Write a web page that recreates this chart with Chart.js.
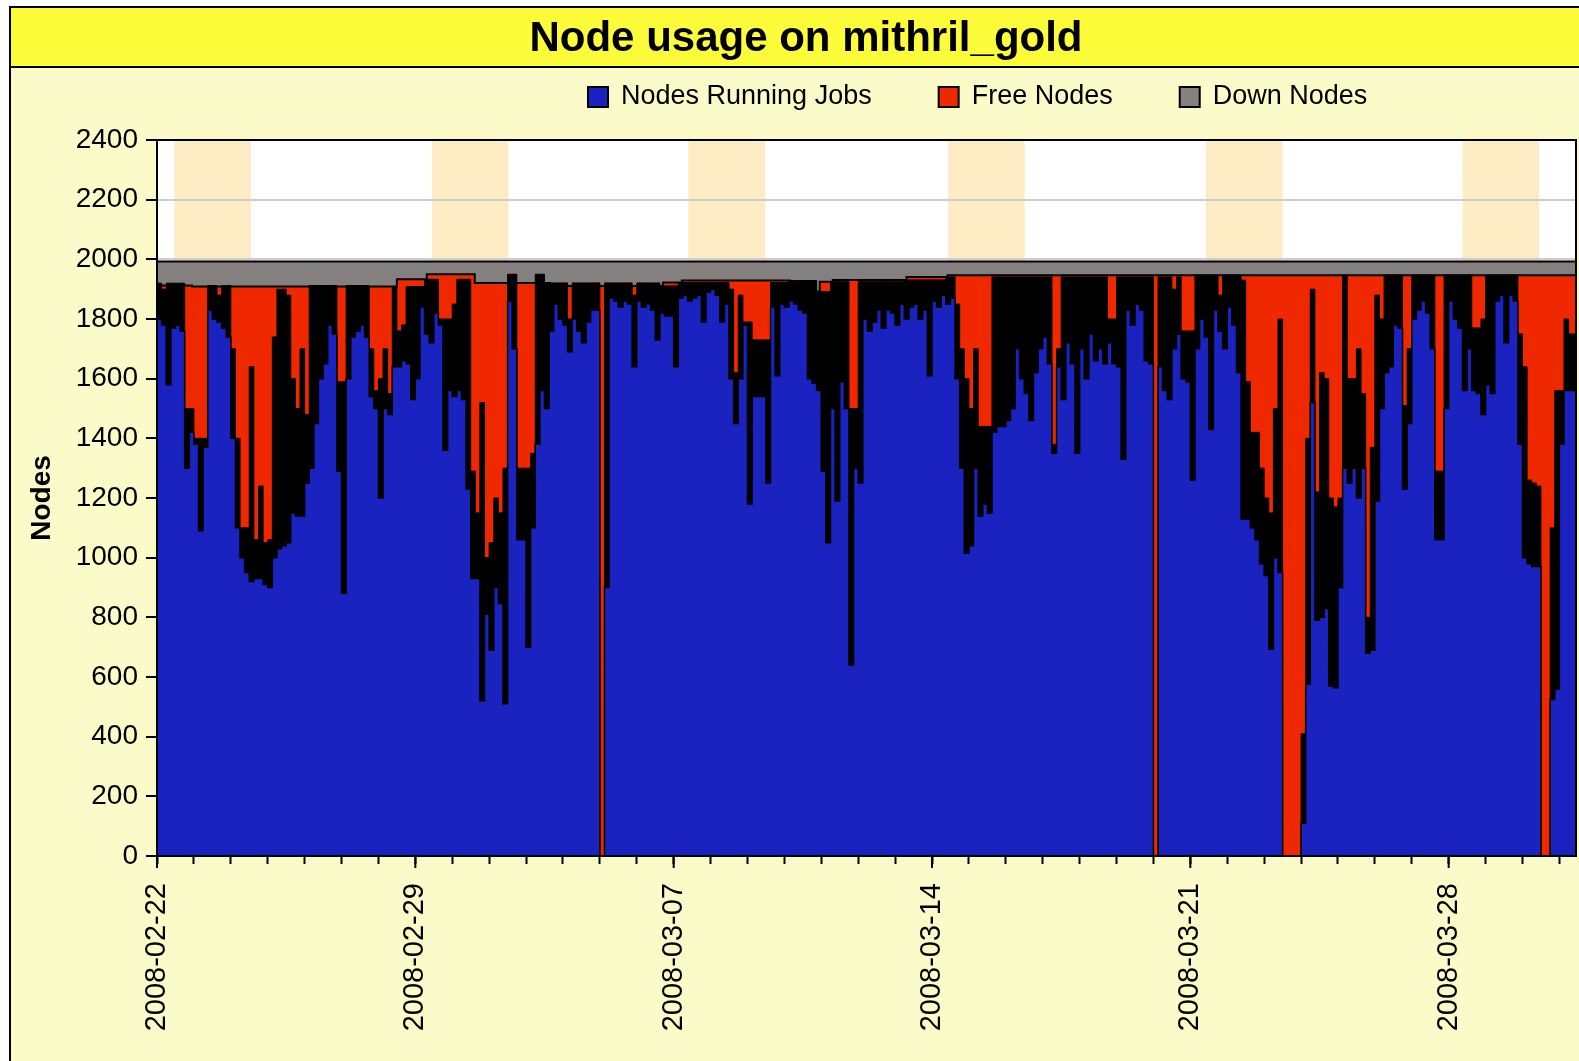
<!DOCTYPE html>
<html>
<head>
<meta charset="utf-8">
<title>Node usage on mithril_gold</title>
<script src="https://cdn.jsdelivr.net/npm/chart.js@4.4.1/dist/chart.umd.min.js"></script>
<style>
  html, body { margin: 0; padding: 0; background: #fff; overflow: hidden; }
  canvas { display: block; }
</style>
</head>
<body>
<canvas id="usage" width="1579" height="1061"></canvas>
<script>
// Node usage on mithril_gold, 2008-02-22 .. 2008-04-01
// values, one sample every 3 hours.
// The running-jobs count swings fast, so each sample has a low (blue top)
// and a peak (top of the black outline band) reading.

var TITLE = 'Node usage on mithril_gold';
var seriesLabels = ['Nodes Running Jobs', 'Free Nodes', 'Down Nodes'];
var weekLabels = ['2008-02-22', '2008-02-29', '2008-03-07', '2008-03-14', '2008-03-21', '2008-03-28'];
var SAMPLE_HOURS = 3;
var X_MAX_DAYS = 38.45;

// nodes running jobs, lowest value in each 3h sample (one line per day)
var runningJobs = [
  1530, 1800, 1780, 1580, 1770, 1780, 1760, 1300,
  1420, 1380, 1090, 1370, 1830, 1800, 1790, 1770,
  1740, 1400, 1100, 1000,  950,  920,  930,  930,
   910,  900, 1000, 1030, 1040, 1050, 1150, 1140,
  1140, 1250, 1300, 1450, 1600, 1650, 1780, 1750,
  1290,  880, 1600, 1740, 1760, 1780, 1740, 1540,
  1500, 1200, 1500, 1480, 1640, 1640, 1660, 1650,
  1530, 1600, 1840, 1750, 1720, 1820, 1780, 1360,
  1560, 1540, 1560, 1530, 1230,  930,  930,  520,
   810,  690,  900,  846,  510, 1860, 1700, 1060,
  1060,  700, 1100, 1380, 1560, 1500, 1760, 1850,
  1800, 1780, 1690, 1800, 1760, 1720, 1790, 1830,
  1830,    0,  900, 1870, 1860, 1840, 1860, 1850,
  1640, 1860, 1840, 1850, 1830, 1730, 1820, 1810,
  1810, 1640, 1870, 1880, 1860, 1870, 1880, 1790,
  1890, 1900, 1880, 1790, 1850, 1600, 1450, 1600,
  1780, 1180, 1540, 1540, 1540, 1250, 1840, 1610,
  1850, 1840, 1860, 1850, 1830, 1820, 1600, 1585,
  1560, 1290, 1050, 1500, 1190, 1590, 1500,  640,
  1300, 1250, 1800, 1760, 1790, 1830, 1770, 1830,
  1820, 1780, 1850, 1800, 1840, 1850, 1800, 1830,
  1610, 1860, 1840, 1880, 1850, 1870, 1600, 1300,
  1015, 1040, 1300, 1140, 1180, 1150, 1420, 1440,
  1440, 1460, 1500, 1700, 1600, 1550, 1460, 1620,
  1700, 1740, 1650, 1350, 1640, 1530, 1720, 1650,
  1350, 1700, 1600, 1750, 1660, 1700, 1650, 1720,
  1650, 1640, 1330, 1830, 1780, 1850, 1830, 1660,
  1650,    0, 1640, 1560, 1530, 1700, 1750, 1600,
  1590, 1260, 1700, 1800, 1740, 1430, 1830, 1760,
  1700, 1840, 1780, 1620, 1130, 1130, 1100, 1060,
   980,  940,  693, 1000,  950,    0,    0,    0,
     0,  110,  576, 1520,  790,  800,  830,  570,
   564,  900, 1300, 1250, 1300, 1200, 1300,  680,
   690, 1190, 1500, 1620, 1640, 1780, 1770, 1230,
  1450, 1800, 1830, 1860, 1820, 1700, 1060, 1060,
  1500, 1860, 1800, 1770, 1560, 1700, 1560, 1550,
  1480, 1580, 1550, 1860, 1880, 1720, 1880, 1860,
  1380, 1000,  980,  970,  970,    0,    0,  525,
   560, 1380, 1560, 1560
];

// nodes running jobs, highest value in each 3h sample
var runningPeak = [
  1700, 1920, 1900, 1920, 1920, 1920, 1920, 1500,
  1500, 1400, 1400, 1400, 1912, 1912, 1880, 1912,
  1912, 1700, 1400, 1100, 1100, 1640, 1060, 1240,
  1050, 1060, 1740, 1900, 1900, 1880, 1600, 1500,
  1700, 1480, 1912, 1912, 1912, 1912, 1912, 1912,
  1590, 1590, 1912, 1912, 1912, 1912, 1912, 1700,
  1560, 1600, 1700, 1550, 1909, 1760, 1780, 1909,
  1909, 1909, 1909, 1933, 1933, 1933, 1800, 1800,
  1800, 1850, 1933, 1933, 1933, 1290, 1150, 1520,
  1000, 1050, 1200, 1150, 1300, 1950, 1950, 1300,
  1300, 1300, 1350, 1950, 1950, 1921, 1921, 1921,
  1921, 1921, 1800, 1921, 1921, 1921, 1921, 1921,
  1921,    0, 1921, 1921, 1921, 1921, 1921, 1921,
  1880, 1921, 1921, 1921, 1921, 1921, 1911, 1911,
  1911, 1911, 1922, 1922, 1922, 1922, 1922, 1922,
  1922, 1922, 1922, 1922, 1922, 1900, 1620, 1880,
  1790, 1790, 1730, 1730, 1730, 1730, 1922, 1922,
  1922, 1922, 1929, 1929, 1929, 1929, 1929, 1929,
  1892, 1892, 1892, 1925, 1925, 1925, 1925, 1500,
  1500, 1925, 1925, 1925, 1925, 1925, 1925, 1925,
  1925, 1925, 1925, 1931, 1931, 1931, 1931, 1931,
  1931, 1931, 1931, 1931, 1941, 1941, 1850, 1700,
  1600, 1500, 1700, 1440, 1440, 1440, 1941, 1941,
  1941, 1941, 1941, 1941, 1941, 1941, 1941, 1941,
  1941, 1941, 1941, 1380, 1700, 1941, 1941, 1941,
  1941, 1941, 1941, 1941, 1941, 1941, 1941, 1800,
  1800, 1941, 1941, 1941, 1941, 1941, 1941, 1941,
  1941,    0, 1941, 1941, 1941, 1900, 1941, 1760,
  1760, 1760, 1947, 1947, 1947, 1947, 1947, 1880,
  1947, 1947, 1947, 1947, 1930, 1590, 1420, 1420,
  1300, 1200, 1150, 1500, 1800,    0,    0,    0,
     0,  410, 1400, 1900, 1220, 1620, 1600, 1200,
  1170, 1200, 1947, 1600, 1600, 1700, 1550,  800,
  1370, 1880, 1800, 1947, 1947, 1947, 1947, 1510,
  1700, 1947, 1947, 1947, 1947, 1947, 1290, 1290,
  1947, 1947, 1947, 1947, 1947, 1947, 1770, 1770,
  1800, 1947, 1947, 1947, 1947, 1947, 1947, 1947,
  1750, 1640, 1260, 1250, 1240,    0,    0, 1100,
  1560, 1560, 1800, 1750
];

// node counts change rarely: values hold from each day mark to the next
var capacityDays = [0, 0.95, 6.50, 7.31, 8.61, 10.64, 13.71, 14.22, 17.15, 17.96, 18.31, 20.31, 21.42, 27.76, 38.45];
var upNodes      = [1920, 1912, 1909, 1933, 1950, 1921, 1911, 1922, 1929, 1892, 1925, 1931, 1941, 1947, 1947];
var totalNodes   = [1993, 1993, 1993, 1993, 1993, 1993, 1993, 1993, 1993, 1993, 1993, 1993, 1993, 1993, 1993];

// weekend shading, in days from 2008-02-22
var weekendStart = [0.47, 7.45, 14.40, 21.44, 28.42, 35.38];
var weekendEnd   = [2.54, 9.52, 16.48, 23.51, 30.50, 37.45];

var COLORS = {
  page: '#fbfbc9',
  titleBand: '#fcfc3a',
  running: '#1a22bf',
  free: '#f02800',
  down: '#858080',
  weekend: '#fdebc3',
  grid: '#cdcdcd'
};
var FONT = '"Liberation Sans", Arial, sans-serif';

function samplePoints(values) {
  var pts = values.map(function (v, i) {
    return { x: i * SAMPLE_HOURS / 24, y: v };
  });
  pts.push({ x: X_MAX_DAYS, y: values[values.length - 1] });
  return pts;
}

function stepPoints(values) {
  return values.map(function (v, i) { return { x: capacityDays[i], y: v }; });
}

var framePlugin = {
  id: 'frame',
  beforeDraw: function (chart) {
    var ctx = chart.ctx, w = chart.width, h = chart.height;
    var area = chart.chartArea, xs = chart.scales.x;
    ctx.save();
    ctx.fillStyle = '#fff';
    ctx.fillRect(0, 0, w, h);
    ctx.fillStyle = COLORS.page;
    ctx.fillRect(10, 7, w, h);
    ctx.fillStyle = COLORS.titleBand;
    ctx.fillRect(10, 7, w, 60);
    ctx.strokeStyle = '#000';
    ctx.lineWidth = 2;
    ctx.beginPath();
    ctx.moveTo(10, h);
    ctx.lineTo(10, 7);
    ctx.lineTo(w, 7);
    ctx.moveTo(10, 67);
    ctx.lineTo(w, 67);
    ctx.stroke();

    ctx.fillStyle = '#000';
    ctx.font = 'bold 42px ' + FONT;
    ctx.textAlign = 'center';
    ctx.textBaseline = 'middle';
    ctx.fillText(TITLE, 806, 39);

    // plot background + weekends
    ctx.fillStyle = '#fff';
    ctx.fillRect(area.left, area.top, area.right - area.left, area.bottom - area.top);
    ctx.fillStyle = COLORS.weekend;
    for (var i = 0; i < weekendStart.length; i++) {
      var x0 = xs.getPixelForValue(weekendStart[i]);
      var x1 = Math.min(xs.getPixelForValue(weekendEnd[i]), area.right);
      ctx.fillRect(x0, area.top, x1 - x0, area.bottom - area.top);
    }
    ctx.restore();
  },
  afterDatasetsDraw: function (chart) {
    var ctx = chart.ctx, a = chart.chartArea, xs = chart.scales.x;
    ctx.save();
    ctx.strokeStyle = '#000';
    ctx.lineWidth = 2;
    ctx.strokeRect(a.left, a.top, a.right - a.left, a.bottom - a.top);
    // weekly ticks are longer than the daily ones
    ctx.beginPath();
    for (var k = 0; k < weekLabels.length; k++) {
      var x = xs.getPixelForValue(k * 7);
      ctx.moveTo(x, a.bottom);
      ctx.lineTo(x, a.bottom + 12);
    }
    ctx.stroke();
    ctx.restore();
  },
  afterDraw: function (chart) {
    // legend, laid out like the original (not centred on the canvas)
    var ctx = chart.ctx;
    var x = 588, y = 97;
    ctx.save();
    ctx.font = '27px ' + FONT;
    ctx.textAlign = 'left';
    ctx.textBaseline = 'middle';
    chart.data.datasets.forEach(function (ds) {
      if (ds.inLegend === false) return;
      ctx.fillStyle = ds.backgroundColor;
      ctx.fillRect(x, y - 10, 20, 20);
      ctx.strokeStyle = '#000';
      ctx.lineWidth = 2;
      ctx.strokeRect(x, y - 10, 20, 20);
      ctx.fillStyle = '#000';
      ctx.fillText(ds.label, x + 33, y);
      x += 33 + ctx.measureText(ds.label).width + 67;
    });
    ctx.restore();
  }
};

new Chart(document.getElementById('usage'), {
  type: 'line',
  data: {
    datasets: [
      {
        label: seriesLabels[0],
        data: samplePoints(runningJobs),
        backgroundColor: COLORS.running,
        borderColor: '#000',
        borderWidth: 1.5,
        stepped: 'after',
        fill: 'origin',
        pointRadius: 0,
        order: 0
      },
      {
        label: seriesLabels[1],
        data: stepPoints(upNodes),
        backgroundColor: COLORS.free,
        borderColor: '#000',
        borderWidth: 2,
        stepped: 'after',
        fill: 'origin',
        pointRadius: 0,
        order: 2
      },
      {
        label: seriesLabels[2],
        data: stepPoints(totalNodes),
        backgroundColor: COLORS.down,
        borderColor: '#000',
        borderWidth: 2,
        stepped: 'after',
        fill: 'origin',
        pointRadius: 0,
        order: 3
      },
      {
        // black outline band of the running-jobs line
        label: 'Nodes Running Jobs (peak)',
        inLegend: false,
        data: samplePoints(runningPeak),
        backgroundColor: '#000',
        borderColor: '#000',
        borderWidth: 1,
        stepped: 'after',
        fill: 'origin',
        pointRadius: 0,
        order: 1
      }
    ]
  },
  options: {
    responsive: false,
    devicePixelRatio: 1,
    animation: false,
    events: [],
    layout: { padding: { top: 140, right: 3, left: 0, bottom: 0 } },
    plugins: {
      legend: { display: false },
      title: { display: false },
      tooltip: { enabled: false }
    },
    scales: {
      x: {
        type: 'linear',
        min: 0,
        max: X_MAX_DAYS,
        afterFit: function (s) { s.height = 205; s.paddingLeft = 0; s.paddingRight = 0; },
        grid: { drawOnChartArea: false, drawTicks: true, tickLength: 8, tickColor: '#000', tickWidth: 2 },
        border: { color: '#000', width: 2, z: 1 },
        ticks: {
          stepSize: 1,
          autoSkip: false,
          includeBounds: false,
          minRotation: 90,
          maxRotation: 90,
          padding: 19,
          color: '#000',
          font: { family: FONT, size: 29 },
          callback: function (v) {
            return v % 7 === 0 ? weekLabels[v / 7] : '';
          }
        }
      },
      y: {
        min: 0,
        max: 2400,
        afterFit: function (s) { s.width = 157; },
        grid: { color: COLORS.grid, lineWidth: 2, tickLength: 11, tickColor: '#000', tickWidth: 2 },
        border: { color: '#000', width: 2, z: 1 },
        ticks: {
          stepSize: 200,
          padding: 8,
          color: '#000',
          font: { family: FONT, size: 28 },
          callback: function (v) { return String(v); }
        },
        title: {
          display: true,
          text: 'Nodes',
          color: '#000',
          font: { family: FONT, size: 28, weight: 'bold' },
          padding: { top: 25, bottom: 0 }
        }
      }
    }
  },
  plugins: [framePlugin]
});
</script>
</body>
</html>
